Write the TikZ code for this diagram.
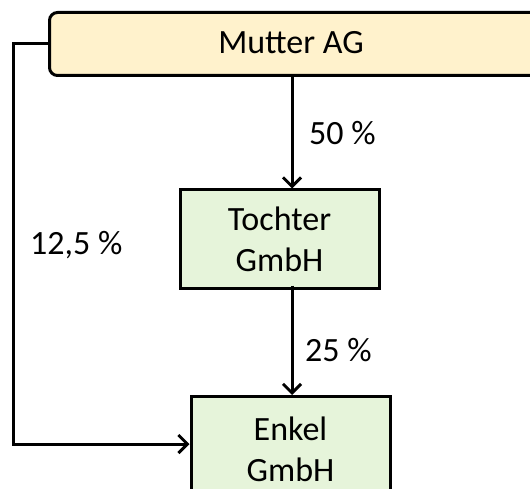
\documentclass[tikz,border=0pt]{standalone}
\usepackage{fontspec}
\setmainfont{Carlito}
\usetikzlibrary{arrows.meta}
\definecolor{mutterfill}{HTML}{FFF2CC}
\definecolor{kindfill}{HTML}{E6F4DA}
\begin{document}
\begin{tikzpicture}[x=1pt,y=-1pt,
  every node/.style={font=\fontsize{34}{41}\selectfont, inner sep=0pt},
  firmbox/.style={draw=black, line width=3pt, fill=kindfill, align=center},
  link/.style={draw=black, line width=3pt, -{Straight Barb[length=9pt,width=18pt,line width=3pt]}},
  pct/.style={anchor=west}]
\useasboundingbox (0,0) rectangle (530,489);
\begin{scope}
\clip (0,0) rectangle (530,489);
\node[draw=black, line width=3pt, fill=mutterfill, rounded corners=8pt,
      minimum width=500pt, minimum height=63pt, anchor=north west] (mutter) at (48,11) {};
\node (mutterlabel) at (291,43) {Mutter AG};
\node[firmbox, minimum width=199pt, minimum height=98pt] (tochter) at (279.5,239) {Tochter\\GmbH};
\node[firmbox, minimum width=199pt, minimum height=106pt, anchor=north] (enkel) at (290.5,395) {Enkel\\GmbH};
\end{scope}
\coordinate (ax) at (292,0);
\coordinate (topleft) at (13,44);
\coordinate (botleft) at (13,444);
\draw[link] (ax |- mutter.south) -- (ax |- tochter.north);
\draw[link] ([yshift=4pt]ax |- tochter.south) -- (ax |- enkel.north);
\draw[link] (mutter.west |- topleft) -- (topleft) -- (botleft) -- (botleft -| enkel.west);
\node[pct] (p50) at (309,133) {50 \%};
\node[pct] (p125) at (30,245) {12,5 \%};
\node[pct] (p25) at (305,350) {25 \%};
\end{tikzpicture}
\end{document}
